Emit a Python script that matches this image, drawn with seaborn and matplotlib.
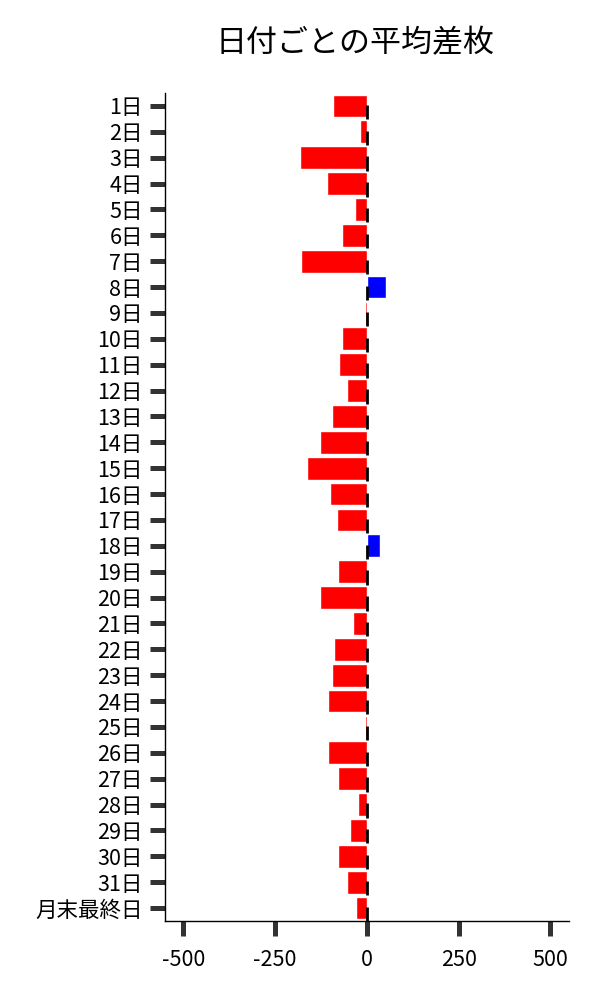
import matplotlib
matplotlib.use("Agg")
import matplotlib.pyplot as plt
import seaborn as sns
import numpy as np
import pandas as pd

days = [f"{i}日" for i in range(1, 32)] + ["月末最終日"]
values = [-92, -19, -182, -109, -33, -68, -179, 52, -4,
          -68, -76, -54, -95, -128, -163, -101, -82, 37, -79, -128,
          -38, -90, -95, -106, -4, -106, -79, -24, -46, -79, -54, -30]
xticks = [-500, -250, 0, 250, 500]

sns.set_theme(style="ticks")
plt.rcParams['font.family'] = ['Noto Sans CJK JP', 'DejaVu Sans']

df = pd.DataFrame({"day": days, "value": values})
colors = ["#0000FF" if v > 0 else "#FF0000" for v in values]

fig = plt.figure(figsize=(6, 10), dpi=100)
ax = fig.add_axes([0.275, 0.079, 0.673, 0.828])
sns.barplot(data=df, x="value", y="day", hue="day", palette=colors,
            legend=False, width=0.88, saturation=1, ax=ax, orient="h")
pos = np.arange(len(days))
ax.vlines(np.zeros(len(days)), pos - 0.05, pos + 0.5, color="black", lw=2, zorder=5)

ax.set_xlim(-550, 550)
ax.set_ylim(len(days) - 0.5, -0.5)
ax.set_xticks(xticks)
ax.set_xticklabels([str(t) for t in xticks])
ax.set_xlabel("")
ax.set_ylabel("")
fig.text(0.592, 1 - 43.5 / 1000, "日付ごとの平均差枚", fontsize=22.3,
         ha="center", va="center", color="black")
sns.despine(ax=ax)
for s in ["left", "bottom"]:
    ax.spines[s].set_color("black")
    ax.spines[s].set_linewidth(1)
ax.tick_params(axis="both", length=11, width=3.6, color="#333333",
               labelsize=15.5, pad=5, labelcolor="black")
ax.tick_params(axis="x", pad=9)
fig.savefig("out.png", dpi=100)
